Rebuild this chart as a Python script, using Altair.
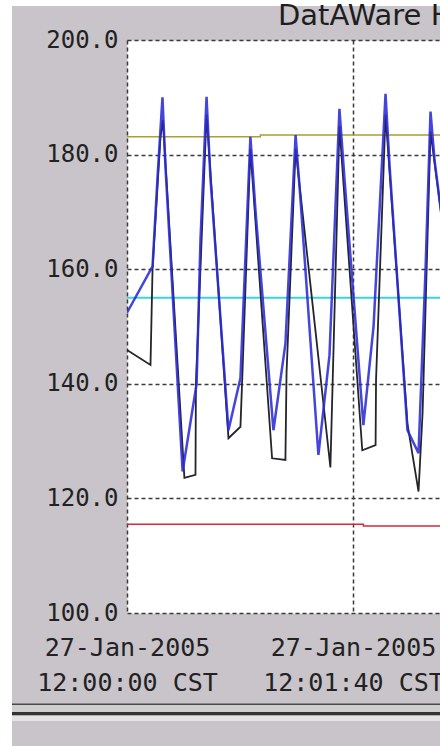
import altair as alt
import pandas as pd

# ---- data (seconds after 27-Jan-2005 12:00:00 CST) ----
blue_t = [0, 11.3, 13.5, 15.7, 17.0, 24.6, 30.8, 32.5, 35.2, 36.9, 44.9, 50.2, 54.6, 56.9,
          64.8, 70.1, 74.6, 76.8, 84.7, 89.6, 94.0, 96.2, 104.6, 109.1, 114.4, 116.2,
          124.1, 129.0, 132.1, 134.3, 136.1, 139.6]
blue_v = [152.4, 160.5, 176, 190.0, 178, 124.7, 140, 165, 190.1, 176, 131.9, 141, 183.1, 170,
          131.9, 147, 183.4, 172, 127.6, 145, 188.0, 176, 132.8, 150, 190.6, 178,
          131.9, 127.9, 160, 187.5, 179, 168]

black_t = [0, 10.4, 11.3, 14.8, 15.9, 25.4, 30.3, 30.5, 35.2, 44.9, 50.2, 51.1, 54.6,
           64.2, 70.1, 70.6, 74.6, 90.0, 94.0, 104.1, 110.0, 110.2, 114.4, 124.1, 129.0,
           130.8, 134.3, 139.6]
black_v = [145.9, 143.3, 160, 183, 186, 123.6, 124.1, 140, 187, 130.5, 132.5, 142, 181,
           127, 126.7, 142, 181, 125.4, 185, 128.4, 129.3, 140.7, 187, 133, 121.2,
           135, 184, 168]

yellow_t = [0, 59, 139.6]
yellow_v = [183.1, 183.4, 183.4]
cyan_t = [0, 139.6]
cyan_v = [155.0, 155.0]
red_t = [0, 104.6, 139.6]
red_v = [115.5, 115.2, 115.2]

tick_secs = [0, 100]
tick_dates = ["27-Jan-2005", "27-Jan-2005"]
tick_times = ["12:00:00 CST", "12:01:40 CST"]
y_ticks = [100, 120, 140, 160, 180, 200]
title_text = ["DatAWare Historian"]

# ---- helpers ----
W, H = 313, 573
XDOM = [0, 138.5]
YDOM = [100, 200]

label_expr = ""
for s, d, tm in zip(tick_secs, tick_dates, tick_times):
    label_expr += f"datum.value == {s} ? ['{d}', '{tm}'] : "
label_expr += "''"

x_enc = alt.X("t:Q", scale=alt.Scale(domain=XDOM, nice=False, zero=False),
              axis=alt.Axis(values=tick_secs, labelExpr=label_expr, title=None,
                            grid=True, domain=False, ticks=False, labelFlush=False,
                            labelPadding=22, labelLineHeight=35, labelFontSize=25,
                            labelFont="DejaVu Sans Mono", labelColor="#222222",
                            labelAlign="center", labelOverlap=False, labelLimit=0,
                            gridDash=[4, 3], gridColor="#3a3a3a", gridWidth=1.5))
y_enc = alt.Y("v:Q", scale=alt.Scale(domain=YDOM, nice=False, zero=False),
              axis=alt.Axis(values=y_ticks, format=".1f", title=None, grid=True,
                            domain=False, ticks=False, labelPadding=9, labelFontSize=24,
                            labelFont="DejaVu Sans Mono", labelColor="#222222",
                            gridDash=[4, 3], gridColor="#3a3a3a", gridWidth=1.5))


def series(ts, vs, color, width, interp="linear", opacity=1.0):
    df = pd.DataFrame({"t": ts, "v": vs})
    return alt.Chart(df).mark_line(color=color, strokeWidth=width, clip=True,
                                   interpolate=interp, opacity=opacity).encode(x=x_enc, y=y_enc)


def pix_rect(x1, x2, y1, y2, color):
    return alt.Chart(pd.DataFrame({"a": [0]})).mark_rect(color=color, clip=False).encode(
        x=alt.value(x1), x2=alt.value(x2), y=alt.value(y1), y2=alt.value(y2))


# decorations outside the plot (pixel coordinates relative to plot origin)
white_left = pix_rect(-127, -115, -40, 706, "#ffffff")
white_top = pix_rect(-127, W, -40, -34, "#ffffff")
line1 = pix_rect(-115, W, 663.5, 665, "#4a4a4a")
band1 = pix_rect(-115, W, 665, 672, "#cfcfcf")
line2 = pix_rect(-115, W, 672, 675.5, "#333333")
band2 = pix_rect(-115, W, 675.5, 681, "#e4e4e4")

title = alt.Chart(pd.DataFrame({"s": title_text})).mark_text(
    align="left", baseline="alphabetic", font="DejaVu Sans", fontSize=29,
    color="#1e1e1e", clip=False).encode(x=alt.value(151), y=alt.value(-15), text="s:N")

yellow = series(yellow_t, yellow_v, "#a8a032", 1.5, "step-after")
cyan = series(cyan_t, cyan_v, "#38d4e4", 2)
red = series(red_t, red_v, "#d8283c", 1.5, "step-after")
black = series(black_t, black_v, "#24242c", 1.8)
blue = series(blue_t, blue_v, "#2b2bd6", 2.5, opacity=0.88)

chart = alt.layer(
    white_left, white_top, line1, band1, line2, band2,
    yellow, cyan, red, black, blue, title
).properties(
    width=W, height=H,
    autosize=alt.AutoSizeParams(type="none"),
    padding={"left": 127, "top": 40, "right": 0, "bottom": 133},
    background="#c8c4ca",
).configure_view(fill="#ffffff", stroke="transparent")

chart.save("out.html", embed_options={"renderer": "svg", "actions": False})
